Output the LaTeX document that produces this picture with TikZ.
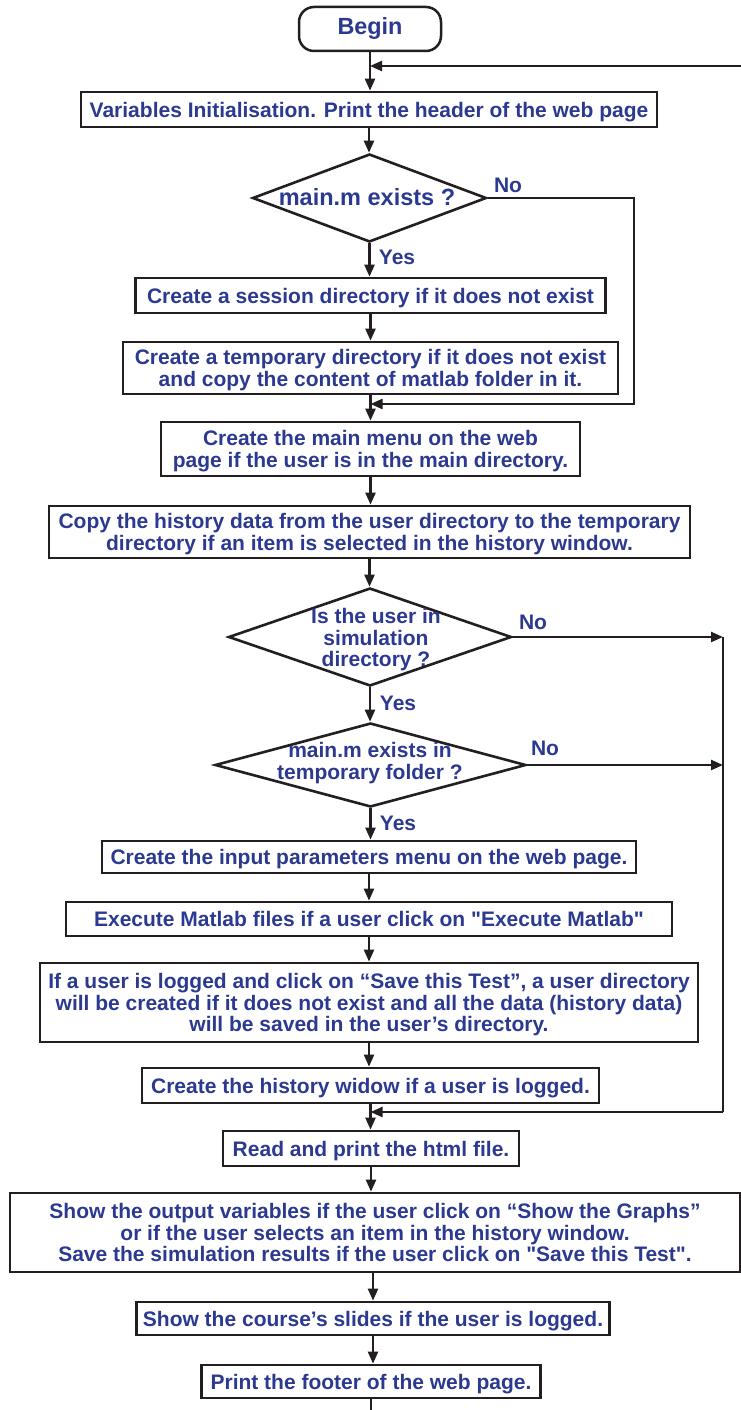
\documentclass[tikz,border=0pt]{standalone}
\usepackage{fontspec}
\setmainfont{Liberation Sans}
\usetikzlibrary{shapes.geometric,arrows.meta}
\definecolor{txtblue}{RGB}{43,57,144}
\definecolor{ink}{RGB}{35,31,32}
\begin{document}
\begin{tikzpicture}[x=1pt,y=-1pt,
  every node/.style={text=txtblue, font=\bfseries\fontsize{21}{21.5}\selectfont},
  box/.style={draw=ink, line width=2.7pt, rectangle, align=center, inner sep=0pt, text depth=0pt},
  decision/.style={draw=ink, line width=2.6pt, diamond, inner sep=0pt},
  dtext/.style={align=center, inner sep=0pt},
  tag/.style={inner sep=0pt},
  flow/.style={draw=ink, line width=2.3pt},
  arr/.style={flow, -{Triangle[length=12pt,width=10pt]}}]
\useasboundingbox (0,0) rectangle (741,1410);

% process steps
\node (begin) [draw=ink, line width=2.5pt, rounded corners=15pt, minimum width=142pt, minimum height=44pt, inner sep=0pt,
  font=\bfseries\fontsize{23.4}{24}\selectfont] at (370,29) {Begin};
\node (var) [box, minimum width=576pt, minimum height=35pt] at (369,109.5)
  {Variables Initialisation. Print the header of the web page};

\node (d1) [decision, minimum width=234pt, minimum height=88pt] at (369.5,198) {};
\node (d1t) [dtext, font=\bfseries\fontsize{23.5}{24}\selectfont] at (367,197) {main.m exists ?};
\node (no1) [tag] at (508,185) {No};
\node (yes1) [tag] at (397,257) {Yes};

\node (sess) [box, minimum width=470pt, minimum height=35pt] at (370.5,295.5)
  {Create a session directory if it does not exist};
\node (temp) [box, minimum width=495pt, minimum height=52pt] at (370.5,368)
  {Create a temporary directory if it does not exist\\and copy the content of matlab folder in it.};
\node (menu) [box, minimum width=419pt, minimum height=54pt] at (370.5,449)
  {Create the main menu on the web\\page if the user is in the main directory.};
\node (copy) [box, minimum width=641pt, minimum height=52pt] at (369.5,532)
  {Copy the history data from the user directory to the temporary\\directory if an item is selected in the history window.};

\node (d2) [decision, minimum width=283pt, minimum height=98pt] at (370,637) {};
\node (d2t) [dtext] at (376,640) {Is the user in\\simulation\\directory ?};
\node (no2) [tag] at (533,622) {No};
\node (yes2) [tag] at (398,703) {Yes};

\node (d3) [decision, minimum width=311pt, minimum height=84pt] at (370.5,765) {};
\node (d3t) [dtext] at (370,763) {main.m exists in\\temporary folder ?};
\node (no3) [tag] at (545,748) {No};
\node (yes3) [tag] at (398,823) {Yes};

\node (input) [box, minimum width=534pt, minimum height=32pt] at (369,857)
  {Create the input parameters menu on the web page.};
\node (exec) [box, minimum width=606pt, minimum height=34pt] at (369,919)
  {Execute Matlab files if a user click on \textquotedbl Execute Matlab\textquotedbl};
\node (save) [box, minimum width=658pt, minimum height=79pt] at (369,1002.5)
  {If a user is logged and click on “Save this Test”, a user directory\\will be created if it does not exist and all the data (history data)\\will be saved in the user’s directory.};
\node (hist) [box, minimum width=457pt, minimum height=35pt] at (370.5,1085.5)
  {Create the history widow if a user is logged.};
\node (read) [box, minimum width=296pt, minimum height=35pt] at (371,1148.5)
  {Read and print the html file.};
\node (show) [box, minimum width=730pt, minimum height=79pt] at (375,1232.5)
  {Show the output variables if the user click on “Show the Graphs”\\or if the user selects an item in the history window.\\Save the simulation results if the user click on \textquotedbl Save this Test\textquotedbl.};
\node (course) [box, minimum width=473pt, minimum height=33pt] at (373,1318.5)
  {Show the course’s slides if the user is logged.};
\node (footer) [box, minimum width=339pt, minimum height=33pt] at (371,1381.5)
  {Print the footer of the web page.};

% junction points and rails
\coordinate (topin) at (741,66);
\coordinate (j0) at (begin.south |- topin);
\coordinate (r1) at (634,404);
\coordinate (j1) at (temp.south |- r1);
\coordinate (rail) at (723,1112);
\coordinate (r2) at (d2.east -| rail);
\coordinate (r3) at (d3.east -| rail);
\coordinate (j4) at (hist.south |- rail);
\coordinate (out) at (371,1410);

% main flow
\draw[arr] (begin.south) -- (begin.south |- var.north);
\draw[arr] (topin) -- (j0);
\draw[arr] (var.south) -- (var.south |- d1.north);
\draw[arr] (d1.south) -- (d1.south |- sess.north);
\draw[arr] (sess.south) -- (sess.south |- temp.north);
\draw[arr] (temp.south) -- (temp.south |- menu.north);
\draw[arr] (menu.south) -- (menu.south |- copy.north);
\draw[arr] (copy.south) -- (copy.south |- d2.north);
\draw[arr] (d2.south) -- (d2.south |- d3.north);
\draw[arr] (d3.south) -- (d3.south |- input.north);
\draw[arr] (input.south) -- (input.south |- exec.north);
\draw[arr] (exec.south) -- (exec.south |- save.north);
\draw[arr] (save.south) -- (save.south |- hist.north);
\draw[arr] (hist.south) -- (hist.south |- read.north);
\draw[arr] (read.south) -- (read.south |- show.north);
\draw[arr] (show.south -| course.north) -- (course.north);
\draw[arr] (course.south) -- (course.south |- footer.north);
\draw[flow] (footer.south) -- (out);

% bypass branches
\draw[arr] (d1.east) -| (r1) -- (j1);
\draw[arr] (d2.east) -- (r2);
\draw[arr] (d3.east) -- (r3);
\draw[flow] (r2) -- (rail);
\draw[arr] (rail) -- (j4);
\end{tikzpicture}
\end{document}
